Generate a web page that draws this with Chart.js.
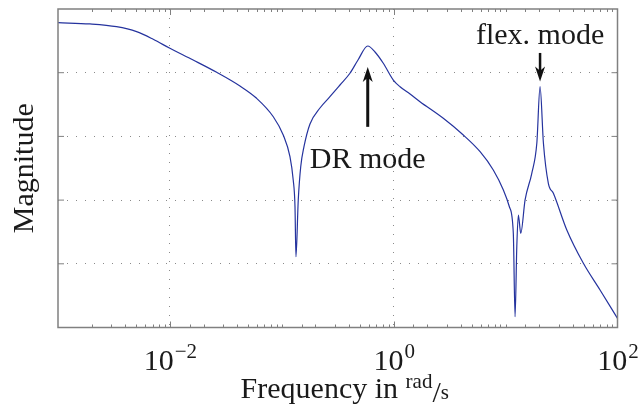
<!DOCTYPE html>
<html>
<head>
<meta charset="utf-8">
<script src="https://cdn.jsdelivr.net/npm/chart.js@4/dist/chart.umd.min.js"></script>
<style>
    html, body { margin: 0; padding: 0; background: #fff; }
</style>
</head>
<body>
<canvas id="bodeChart" width="640" height="412"></canvas>
<script>
// Frequency samples (rad/s)
const freq = [
    0.001, 0.001928, 0.003334, 0.005035, 0.007096, 0.01, 0.01614, 0.02618, 0.04227, 0.05957,
    0.08395, 0.1030, 0.1183, 0.1265, 0.1312, 0.1338, 0.1403, 0.1476, 0.1578, 0.1786,
    0.2193, 0.2692, 0.3311, 0.4064, 0.4797, 0.5861, 0.681, 0.8072, 0.9920, 1.139,
    1.400, 1.718, 2.775, 4.188, 5.916, 7.762, 9.550, 10.81, 11.72, 12.15,
    12.59, 13.00, 13.66, 14.93, 17.14, 19.01, 20.32, 21.78, 24.10, 26.73,
    35.24, 49.55, 69.82, 100
];
// Magnitude in grid units (axis shows 0..5, no labels)
const mag = [
    4.785, 4.765, 4.722, 4.644, 4.524, 4.383, 4.199, 4.006, 3.791, 3.598,
    3.309, 3.022, 2.681, 2.316, 1.896, 1.111, 2.002, 2.524, 2.838, 3.195,
    3.446, 3.623, 3.807, 3.991, 4.199, 4.419, 4.325, 4.148, 3.885, 3.780,
    3.666, 3.545, 3.284, 3.022, 2.760, 2.473, 2.159, 1.896, 1.479, 0.170,
    1.268, 1.766, 1.479, 2.002, 2.421, 2.892, 3.780, 2.892, 2.264, 2.107,
    1.531, 1.008, 0.589, 0.144
];

const xTickValues = [0.01, 1, 100];
const xTickBases = ['10', '10', '10'];
const xTickExps = ['\u22122', '0', '2'];
const xGridValues = [0.01, 1];
const yGridValues = [1, 2, 3, 4];

// arrows: x position, tail y, tip y, label baseline y (data units)
const arrowLabels = ['DR mode', 'flex. mode'];
const arrowX = [0.5861, 20.32];
const arrowFrom = [3.15, 4.31];
const arrowTo = [4.09, 3.86];
const labelY = [2.50, 4.457];

const SERIF = '"Liberation Serif", "Times New Roman", serif';
const FRAME = '#808080';
const BIG = 30, SMALL = 21;

function sameLog(a, b) {
    return Math.abs(Math.log10(a) - Math.log10(b)) < 1e-6;
}

function drawArrow(c, x, y0, y1, shaft) {
    const dir = Math.sign(y1 - y0);
    const headLen = 15, headW = 5;
    c.save();
    c.strokeStyle = '#111';
    c.fillStyle = '#111';
    c.lineWidth = shaft;
    c.beginPath();
    c.moveTo(x, y0);
    c.lineTo(x, y1 - dir * headLen * 0.7);
    c.stroke();
    c.beginPath();
    c.moveTo(x, y1);
    c.lineTo(x - headW, y1 - dir * headLen);
    c.lineTo(x, y1 - dir * headLen * 0.72);
    c.lineTo(x + headW, y1 - dir * headLen);
    c.closePath();
    c.fill();
    c.restore();
}

const decorations = {
    id: 'decorations',
    afterDraw(chart) {
        const c = chart.ctx;
        const xs = chart.scales.x, ys = chart.scales.y;
        const a = chart.chartArea;

        c.save();
        // frame
        c.strokeStyle = FRAME;
        c.lineWidth = 1.5;
        c.strokeRect(a.left, a.top, a.right - a.left, a.bottom - a.top);

        // inward tick marks
        c.lineWidth = 1;
        c.beginPath();
        xs.ticks.forEach(t => {
            const v = t.value;
            if (v <= xs.min * 1.0001 || v >= xs.max * 0.9999) return;
            const major = xTickValues.some(m => sameLog(m, v));
            const len = major ? 6 : 3;
            const px = Math.round(xs.getPixelForValue(v)) + 0.5;
            c.moveTo(px, a.bottom); c.lineTo(px, a.bottom - len);
            c.moveTo(px, a.top); c.lineTo(px, a.top + len);
        });
        yGridValues.forEach(v => {
            const py = ys.getPixelForValue(v);
            c.moveTo(a.left, py); c.lineTo(a.left + 6, py);
            c.moveTo(a.right, py); c.lineTo(a.right - 6, py);
        });
        c.stroke();

        // x tick labels with superscripts
        c.fillStyle = '#1a1a1a';
        c.textAlign = 'left';
        c.textBaseline = 'alphabetic';
        xTickValues.forEach((v, i) => {
            const px = xs.getPixelForValue(v);
            c.font = BIG + 'px ' + SERIF;
            const wb = c.measureText(xTickBases[i]).width;
            c.font = SMALL + 'px ' + SERIF;
            const we = c.measureText(xTickExps[i]).width;
            const x0 = px - (wb + we) / 2;
            c.font = BIG + 'px ' + SERIF;
            c.fillText(xTickBases[i], x0, a.bottom + 42.5);
            c.font = SMALL + 'px ' + SERIF;
            c.fillText(xTickExps[i], x0 + wb + 1, a.bottom + 30);
        });

        // x title with nicefrac rad/s
        const parts = [
            { t: 'Frequency in ', f: BIG, dy: 70.5 },
            { t: 'rad', f: SMALL, dy: 60 },
            { t: '/', f: BIG, dy: 74 },
            { t: 's', f: SMALL, dy: 71 }
        ];
        let total = 0;
        parts.forEach(p => { c.font = p.f + 'px ' + SERIF; p.w = c.measureText(p.t).width; total += p.w; });
        let x = (a.left + a.right) / 2 + 7 - total / 2;
        parts.forEach(p => {
            c.font = p.f + 'px ' + SERIF;
            c.fillText(p.t, x, a.bottom + p.dy);
            x += p.w;
        });

        // y title
        c.save();
        c.translate(33, (a.top + a.bottom) / 2);
        c.rotate(-Math.PI / 2);
        c.textAlign = 'center';
        c.font = BIG + 'px ' + SERIF;
        c.fillText('Magnitude', 0, 0);
        c.restore();

        // annotations
        arrowLabels.forEach((lbl, i) => {
            const px = xs.getPixelForValue(arrowX[i]);
            drawArrow(c, px, ys.getPixelForValue(arrowFrom[i]), ys.getPixelForValue(arrowTo[i]), i === 0 ? 3 : 2.5);
            c.textAlign = 'center';
            c.font = BIG + 'px ' + SERIF;
            c.fillText(lbl, px, ys.getPixelForValue(labelY[i]));
        });
        c.restore();
    }
};

const ctx = document.getElementById('bodeChart').getContext('2d');
new Chart(ctx, {
    type: 'line',
    data: {
        datasets: [{
            data: freq.map((f, i) => ({ x: f, y: mag[i] })),
            borderColor: '#25339e',
            borderWidth: 1.2,
            pointRadius: 0,
            cubicInterpolationMode: 'monotone',
            fill: false
        }]
    },
    options: {
        responsive: false,
        animation: false,
        devicePixelRatio: 1,
        layout: { padding: { top: 9, right: 22.5, left: 0, bottom: 0 } },
        plugins: { legend: { display: false }, tooltip: { enabled: false } },
        scales: {
            x: {
                type: 'logarithmic',
                min: 0.001,
                max: 100,
                ticks: { display: false },
                grid: {
                    drawTicks: false,
                    lineWidth: 1,
                    color: c => (c.tick && xGridValues.some(g => sameLog(g, c.tick.value))) ? '#8a8a8a' : 'rgba(0,0,0,0)'
                },
                border: { display: false, dash: [1, 8] },
                afterFit: s => { s.height = 84.5; }
            },
            y: {
                min: 0,
                max: 5,
                ticks: { display: false, stepSize: 1 },
                grid: {
                    drawTicks: false,
                    lineWidth: 1,
                    color: c => (c.tick && yGridValues.includes(c.tick.value)) ? '#8a8a8a' : 'rgba(0,0,0,0)'
                },
                border: { display: false, dash: [1, 8] },
                afterFit: s => { s.width = 58; }
            }
        }
    },
    plugins: [decorations]
});
</script>
</body>
</html>
